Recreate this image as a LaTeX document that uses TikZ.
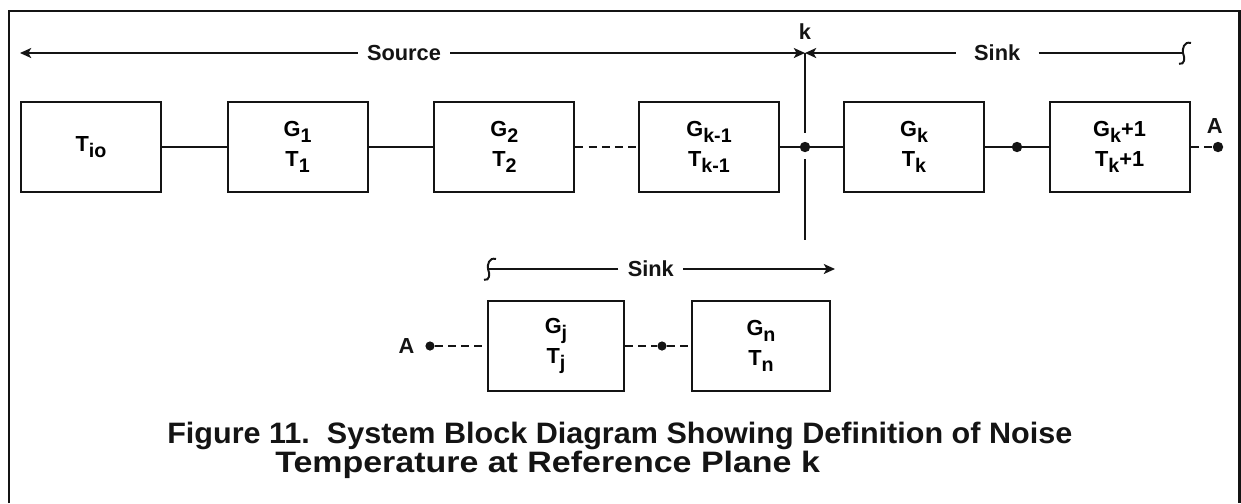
\documentclass[tikz,border=0pt]{standalone}
\usepackage{fontspec}
\setmainfont{Liberation Sans}
\usetikzlibrary{arrows.meta,positioning,calc}
\definecolor{FigInk}{RGB}{20,20,20}
\newcommand{\ind}[1]{\raisebox{-0.5ex}{\fontsize{14}{14}\selectfont #1}}
\tikzset{
  bloco/.style={draw=FigInk, line width=1.4pt, minimum width=3.5cm, minimum height=2.25cm,
                align=center, font=\fontsize{15.5}{21}\selectfont\bfseries, inner sep=2pt},
  fio/.style={line width=1.4pt, FigInk},
  fiotrac/.style={fio, dash pattern=on 2mm off 1.3mm},
  seta/.style={-{Stealth[length=2.8mm,width=2.5mm,inset=0.7mm]}, line width=1.3pt, FigInk},
  ponto/.style={circle, fill=FigInk, inner sep=0pt, minimum size=2.6mm},
  rotulo/.style={font=\fontsize{15.5}{18}\selectfont\bfseries, text=FigInk, inner sep=1pt, inner xsep=2.3mm},
  legenda/.style={font=\fontsize{21}{22}\selectfont\bfseries, text=FigInk, anchor=base west, inner sep=0pt},
}

\begin{document}
\begin{tikzpicture}
  \useasboundingbox (0,0) rectangle (31.025,-12.575);

  % quebra de linha (marca em S)
  \newcommand{\quebra}[1]{%
    \begin{scope}[shift={(#1)}]
      \draw[fio] (0.2,0.25) .. controls (0.02,0.3) and (-0.02,0.1) .. (0,0)
        .. controls (0.05,-0.12) and (0.05,-0.3) .. (-0.1,-0.27);
    \end{scope}}

  % moldura
  \draw[FigInk, line width=2.1pt] (0.225,-12.575) -- (0.225,-0.275) -- (30.98,-0.275) -- (30.98,-12.575);

  % fila principal de blocos
  \foreach \n/\x/\txt in {b0/2.275/{T\ind{io}}, b1/7.44/{G\ind{1}\\T\ind{1}},
                          b2/12.61/{G\ind{2}\\T\ind{2}}, b3/17.725/{G\ind{k-1}\\T\ind{k-1}},
                          b4/22.85/{G\ind{k}\\T\ind{k}}, b5/27.99/{G\ind{k}+1\\T\ind{k}+1}}{
    \node[bloco] (\n) at (\x,-3.675) {\txt};
  }

  \node[ponto] (pk) at (20.125,-3.675) {};
  \node[ponto] (pm1) at (25.425,-3.675) {};
  \node[ponto] (pA1) at (30.45,-3.675) {};
  \node[rotulo, inner xsep=1pt, above=1.5mm of pA1, xshift=-0.8mm] (rA1) {A};

  \draw[fio] (b0) -- (b1);
  \draw[fio] (b1) -- (b2);
  \draw[fiotrac] (b2) -- (b3);
  \draw[fio] (b3) -- (pk) -- (b4);
  \draw[fio] (b4) -- (pm1) -- (b5);
  \draw[fiotrac] (b5) -- (pA1);

  % plano de referencia k
  \node[rotulo, inner xsep=1pt] (rk) at (20.125,-0.8) {k};
  \coordinate (kt) at (20.125,-1.325);
  \coordinate (kb) at (20.125,-6.0);
  \draw[fio] (kt) -- ([yshift=3.6mm]pk.center);
  \draw[fio] ([yshift=-3mm]pk.center) -- (kb);

  % fonte / carga
  \node[rotulo] (src) at (10.1,-1.325) {Source};
  \node[rotulo, inner xsep=4.5mm] (snk1) at (24.93,-1.325) {Sink};
  \coordinate (esq) at (0.5,-1.325);
  \coordinate (q1) at (29.575,-1.325);
  \draw[seta] (src) -- (esq);
  \draw[seta] (src) -- (kt);
  \draw[seta] (snk1) -- (kt);
  \draw[fio] (snk1) -- (q1);
  \quebra{q1}

  % fila inferior
  \node[rotulo] (snk2) at (16.27,-6.725) {Sink};
  \coordinate (q2) at (12.2,-6.725);
  \coordinate (dir) at (20.875,-6.725);
  \draw[fio] (snk2) -- (q2);
  \draw[seta] (snk2) -- (dir);
  \quebra{q2}

  \node[bloco, minimum width=3.4cm] (bj) at (13.9,-8.65) {G\ind{j}\\T\ind{j}};
  \node[bloco, minimum width=3.45cm] (bn) at (19.025,-8.65) {G\ind{n}\\T\ind{n}};
  \node[ponto, minimum size=2.3mm] (pA2) at (10.75,-8.65) {};
  \node[ponto, minimum size=2.3mm] (pm2) at (16.55,-8.65) {};
  \node[rotulo, inner xsep=1pt, left=2.3mm of pA2] (rA2) {A};
  \draw[fiotrac] (pA2) -- (bj);
  \draw[fiotrac] (bj) -- (pm2) -- (bn);

  % legenda
  \node[legenda] (leg1) at (4.175,-11.075)
    {\scalebox{1.035}[1]{Figure 11.\ \ System Block Diagram Showing Definition of Noise}};
  \node[legenda] (leg2) at (6.875,-11.8)
    {\scalebox{1.15}[1]{Temperature at Reference Plane k}};
\end{tikzpicture}
\end{document}
